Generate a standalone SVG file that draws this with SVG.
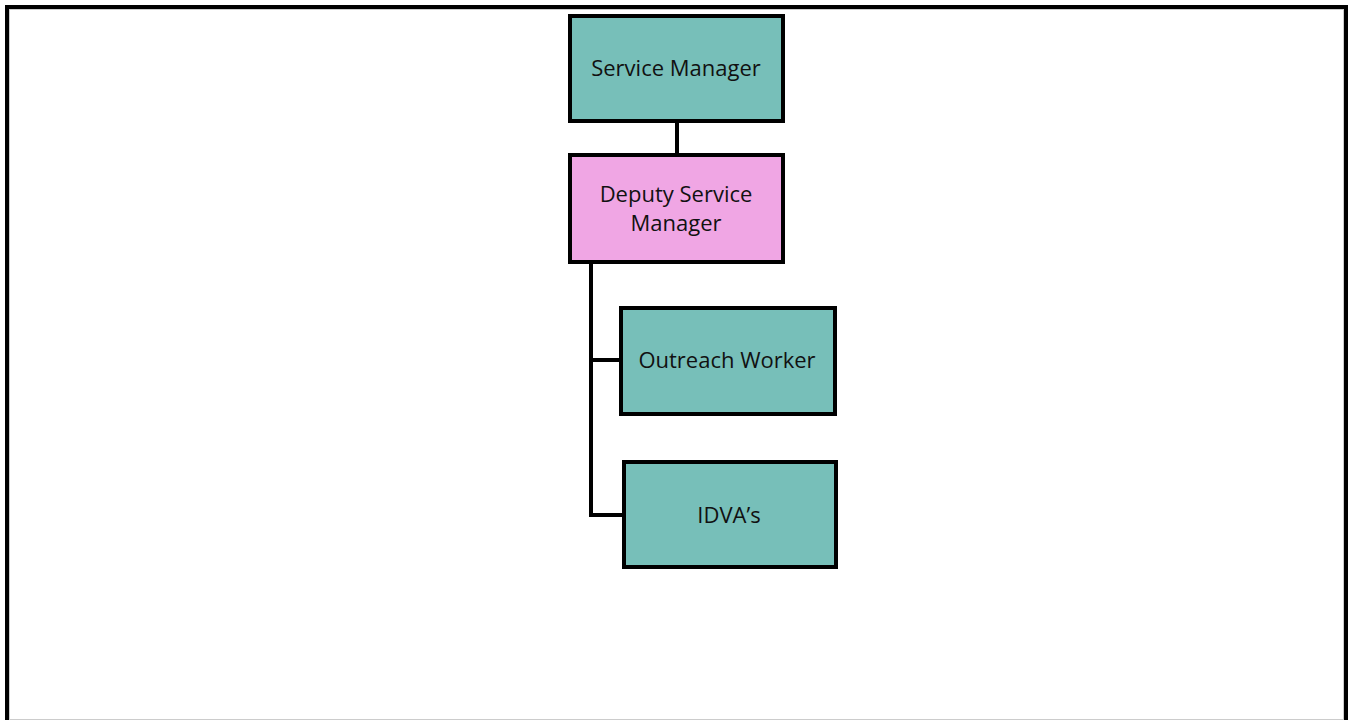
<svg xmlns="http://www.w3.org/2000/svg" width="1353" height="720" viewBox="0 0 1353 720">
<style>
.box{stroke:#000;stroke-width:4}
.teal{fill:#77BFB9}
.pink{fill:#F0A6E4}
.lbl{font-family:"Open Sans",sans-serif;font-size:22px;fill:#111;text-anchor:middle}
.conn{stroke:#000;stroke-width:4;fill:none}
</style>
<rect x="0" y="0" width="1353" height="720" fill="#fff"/>
<rect x="9.5" y="9.5" width="1334" height="710" fill="none" stroke="#ccc" stroke-width="1"/>
<path d="M7,725 V7 H1346 V725" fill="none" stroke="#000" stroke-width="4"/>
<g id="connectors">
<line class="conn" x1="677" y1="123" x2="677" y2="155"/>
<path class="conn" d="M591,262 V515 H624"/>
<line class="conn" x1="591" y1="360" x2="621" y2="360"/>
</g>
<g id="service-manager">
<rect class="box teal" x="570" y="16" width="213" height="105"/>
<text class="lbl" x="676" y="76">Service Manager</text>
</g>
<g id="deputy-service-manager">
<rect class="box pink" x="570" y="155" width="213" height="107"/>
<text class="lbl" x="676" y="202">Deputy Service</text>
<text class="lbl" x="676" y="231">Manager</text>
</g>
<g id="outreach-worker">
<rect class="box teal" x="621" y="308" width="214" height="106"/>
<text class="lbl" x="727" y="368">Outreach Worker</text>
</g>
<g id="idvas">
<rect class="box teal" x="624" y="462" width="212" height="105"/>
<text class="lbl" x="729" y="523">IDVA’s</text>
</g>
</svg>
